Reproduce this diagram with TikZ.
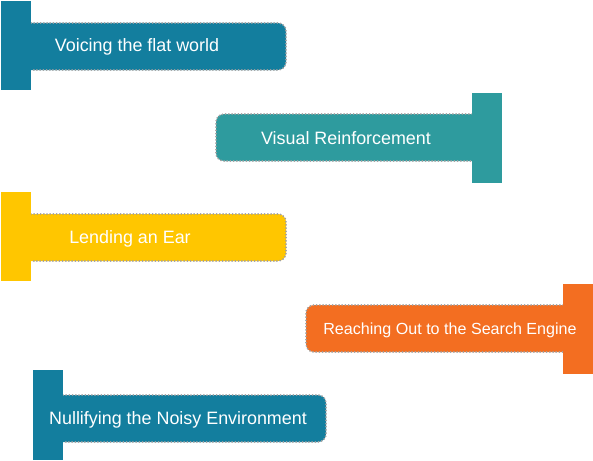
\documentclass[tikz,border=0pt]{standalone}
\usepackage{fontspec}
\setmainfont{Liberation Sans}
\definecolor{ribblue}{RGB}{19,126,158}
\definecolor{ribteal}{RGB}{46,155,158}
\definecolor{ribyellow}{RGB}{255,198,0}
\definecolor{riborange}{RGB}{243,110,33}
\definecolor{dotgray}{RGB}{160,160,160}

\begin{document}
\begin{tikzpicture}[x=1pt,y=-1pt,
  band/.style={rounded corners=8pt},
  seam/.style={draw=dotgray,line width=2pt,line cap=round,dash pattern=on 0pt off 3.2pt,rounded corners=8pt},
  lbl/.style={text=white,font=\fontsize{17.9}{20}\selectfont,inner sep=0pt}]
\useasboundingbox (0,0) rectangle (593,460);
% ribbon 1
\coordinate (v1) at (31,23); \coordinate (v2) at (286,23); \coordinate (v3) at (286,70); \coordinate (v4) at (31,70);
\fill[ribblue,band] (15,23) rectangle (v3);
\draw[seam] (v1)--(v2)--(v3)--(v4);
\fill[ribblue] (1,1) rectangle (31,90);
\node[lbl] (voice) at (137,47) {Voicing the flat world};
% ribbon 2
\coordinate (r1) at (472,114); \coordinate (r2) at (216,114); \coordinate (r3) at (216,161); \coordinate (r4) at (472,161);
\fill[ribteal,band] (r2) rectangle (488,161);
\draw[seam] (r1)--(r2)--(r3)--(r4);
\fill[ribteal] (472,93) rectangle (502,183);
\node[lbl] (visual) at (346,138) {Visual Reinforcement};
% ribbon 3
\coordinate (e1) at (31,214); \coordinate (e2) at (286,214); \coordinate (e3) at (286,261); \coordinate (e4) at (31,261);
\fill[ribyellow,band] (15,214) rectangle (e3);
\draw[seam] (e1)--(e2)--(e3)--(e4);
\fill[ribyellow] (1,192) rectangle (31,281);
\node[lbl] (ear) at (130,239) {Lending an Ear};
% ribbon 4
\coordinate (s1) at (563,305); \coordinate (s2) at (306,305); \coordinate (s3) at (306,352); \coordinate (s4) at (563,352);
\fill[riborange,band] (s2) rectangle (580,352);
\draw[seam] (s1)--(s2)--(s3)--(s4);
\fill[riborange] (563,284) rectangle (593,374);
\node[lbl,font=\fontsize{16.1}{19}\selectfont] (search) at (450,330) {Reaching Out to the Search Engine};
% ribbon 5
\coordinate (n1) at (63,395); \coordinate (n2) at (326,395); \coordinate (n3) at (326,442); \coordinate (n4) at (63,442);
\fill[ribblue,band] (47,395) rectangle (n3);
\draw[seam] (n1)--(n2)--(n3)--(n4);
\fill[ribblue] (33,370) rectangle (63,460);
\node[lbl] (noisy) at (178,420) {Nullifying the Noisy Environment};
\end{tikzpicture}
\end{document}
